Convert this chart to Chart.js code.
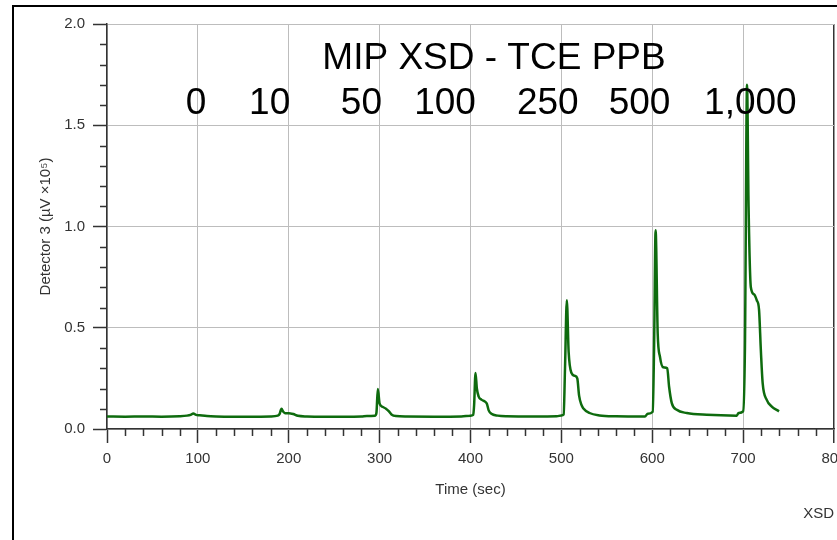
<!DOCTYPE html>
<html>
<head>
<meta charset="utf-8">
<script src="https://cdn.jsdelivr.net/npm/chart.js@4/dist/chart.umd.min.js"></script>
<style>
  html, body { margin: 0; padding: 0; background: #fff; }
  #wrap { width: 837px; height: 540px; position: relative; }
</style>
</head>
<body>
<div id="wrap"><canvas id="xsd" width="837" height="540"></canvas></div>
<script>
// Detector 3 trace, time in seconds
const times = [
  0, 20, 40, 60, 80, 88, 92, 95, 98, 102, 110, 120, 140, 160, 180,
  188, 190, 192, 194, 196, 202, 205, 210, 220, 240, 260, 280, 286,
  295, 296.5, 298, 300, 303, 307, 310, 313, 318, 330, 360, 390,
  400, 403, 404, 405.5, 407, 409, 412, 416, 418, 420, 423, 430, 440, 470,
  495, 500, 502.5, 504, 506, 508, 511, 515, 517.5, 519.5, 522, 524, 531, 542, 560,
  592, 595, 600.5, 602, 603.7, 606, 608.5, 612, 616.5, 618.5, 621.5, 627, 638, 660,
  693, 695, 700, 702, 704.3, 706, 708.5, 712, 715, 717.5, 719.5, 721.5, 726, 731.5, 739.5
];
// signal in µV x 10^5
const signal = [
  0.062, 0.061, 0.062, 0.061, 0.063, 0.066, 0.070, 0.077, 0.070, 0.068, 0.064, 0.062, 0.061, 0.061, 0.062,
  0.066, 0.075, 0.100, 0.085, 0.078, 0.077, 0.074, 0.065, 0.062, 0.061, 0.061, 0.062, 0.064,
  0.066, 0.080, 0.197, 0.125, 0.110, 0.100, 0.088, 0.072, 0.064, 0.062, 0.061, 0.062,
  0.066, 0.070, 0.120, 0.277, 0.200, 0.160, 0.145, 0.135, 0.125, 0.092, 0.075, 0.066, 0.063, 0.062,
  0.063, 0.067, 0.072, 0.300, 0.636, 0.380, 0.278, 0.262, 0.250, 0.165, 0.120, 0.103, 0.079, 0.067, 0.063,
  0.062, 0.075, 0.085, 0.400, 0.981, 0.470, 0.357, 0.305, 0.300, 0.210, 0.128, 0.095, 0.079, 0.070,
  0.066, 0.079, 0.087, 0.400, 1.700, 1.100, 0.700, 0.665, 0.636, 0.590, 0.390, 0.226, 0.144, 0.111, 0.087
];
const ppbLevels = ['0', '10', '50', '100', '250', '500', '1,000'];
const chartTitle = 'MIP XSD - TCE PPB';

const FONT = '"Liberation Sans", Arial, sans-serif';
const DARK = '#333333';
const GRID = '#bdbdbd';

// frame, minor ticks and the text annotations
const extras = {
  id: 'extras',
  afterDraw(chart) {
    const { ctx, chartArea: a, scales: { x, y } } = chart;
    ctx.save();

    // minor ticks
    ctx.strokeStyle = DARK;
    ctx.lineWidth = 1.5;
    ctx.beginPath();
    for (let v = 20; v < 800; v += 20) {
      if (v % 100 === 0) continue;
      const px = Math.round(x.getPixelForValue(v)) + 0.5;
      ctx.moveTo(px, a.bottom);
      ctx.lineTo(px, a.bottom + 7);
    }
    for (let i = 1; i < 20; i++) {
      if (i % 5 === 0) continue;
      const py = Math.round(y.getPixelForValue(i / 10)) + 0.5;
      ctx.moveTo(a.left - 7, py);
      ctx.lineTo(a.left, py);
    }
    ctx.stroke();

    // outer frame
    ctx.strokeStyle = '#000';
    ctx.lineWidth = 2;
    ctx.beginPath();
    ctx.moveTo(13, 540);
    ctx.lineTo(13, 6);
    ctx.lineTo(837, 6);
    ctx.stroke();

    // heading and concentration labels
    ctx.fillStyle = '#000';
    ctx.textAlign = 'center';
    ctx.textBaseline = 'alphabetic';
    ctx.font = '37px ' + FONT;
    ctx.fillText(chartTitle, 494, 69);
    const labelAt = [98, 179, 280, 372, 485, 586, 708];
    ppbLevels.forEach((t, i) => {
      ctx.fillText(t, x.getPixelForValue(labelAt[i]), 114);
    });

    ctx.fillStyle = DARK;
    ctx.font = '15px ' + FONT;
    ctx.textAlign = 'right';
    ctx.textBaseline = 'middle';
    ctx.fillText('XSD', 834, 514);
    ctx.restore();
  }
};

new Chart(document.getElementById('xsd'), {
  type: 'line',
  data: {
    datasets: [{
      data: times.map((t, i) => ({ x: t, y: signal[i] })),
      borderColor: '#0e6b0e',
      borderWidth: 2.5,
      pointRadius: 0,
      cubicInterpolationMode: 'monotone',
      fill: false
    }]
  },
  options: {
    responsive: false,
    animation: false,
    layout: { padding: { left: 37, top: 24, right: 3, bottom: 41 } },
    plugins: { legend: { display: false }, tooltip: { enabled: false } },
    scales: {
      x: {
        type: 'linear',
        min: 0,
        max: 800,
        ticks: { stepSize: 100, color: DARK, padding: 7, font: { family: FONT, size: 15 } },
        grid: {
          color: c => c.tick && c.tick.value === 800 ? DARK : GRID,
          lineWidth: c => c.tick && c.tick.value === 800 ? 1.5 : 1,
          tickColor: DARK,
          tickWidth: 1.5,
          tickLength: 14
        },
        border: { color: DARK, width: 1.5 },
        title: { display: true, text: 'Time (sec)', color: DARK, padding: 0, font: { family: FONT, size: 15 } },
        afterFit(scale) {
          scale.height = 70;
          scale.paddingLeft = 0;
          scale.paddingRight = 0;
        }
      },
      y: {
        min: 0,
        max: 2,
        ticks: {
          stepSize: 0.5,
          color: DARK,
          padding: 8,
          font: { family: FONT, size: 15 },
          callback: v => v.toFixed(1)
        },
        grid: { color: GRID, lineWidth: 1, tickColor: DARK, tickWidth: 1.5, tickLength: 14 },
        border: { color: DARK, width: 1.5 },
        title: { display: true, text: 'Detector 3 (µV ×10⁵)', color: DARK, padding: 0, font: { family: FONT, size: 15 } },
        afterFit(scale) {
          scale.width = 70;
          scale.paddingTop = 0;
          scale.paddingBottom = 0;
        }
      }
    }
  },
  plugins: [extras]
});
</script>
</body>
</html>
